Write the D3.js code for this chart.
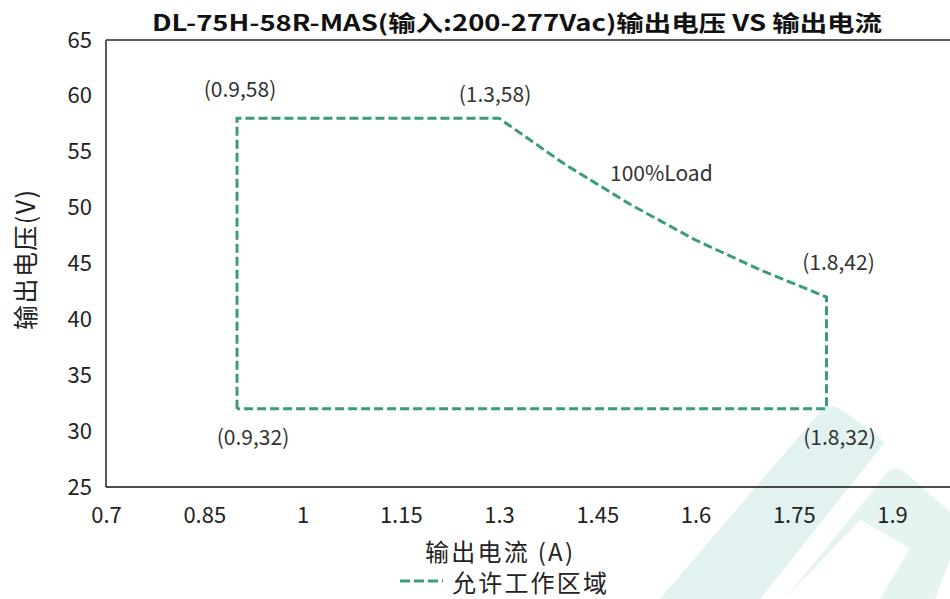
<!DOCTYPE html>
<html><head><meta charset="utf-8">
<script src="https://cdn.jsdelivr.net/npm/d3@7"></script>
<style>body{margin:0;background:#fff}svg{display:block}</style>
</head><body>
<script>
// ---- data ----
const title = "DL-75H-58R-MAS(输入:200-277Vac)输出电压 VS 输出电流";
const xTicks = [0.7, 0.85, 1, 1.15, 1.3, 1.45, 1.6, 1.75, 1.9];
const yTicks = [25, 30, 35, 40, 45, 50, 55, 60, 65];
const current = [0.9, 0.9, 1.3, 1.4, 1.5, 1.6, 1.7, 1.8, 1.8, 0.9];
const voltage = [32, 58, 58, 53.9, 50.3, 47.1, 44.4, 42, 32, 32];
const annotations = [
  {text: "(0.9,58)", x: 0.9, y: 58},
  {text: "(1.3,58)", x: 1.3, y: 58},
  {text: "(1.8,42)", x: 1.8, y: 42},
  {text: "(0.9,32)", x: 0.9, y: 32},
  {text: "(1.8,32)", x: 1.8, y: 32},
  {text: "100%Load", x: 1.47, y: 53}
];
const annOffsets = [[3, -30], [-4, -25], [12, -36], [16, 27], [13, 27], [51, -2]];
const xLabel = "输出电流 (A)";
const yLabel = "输出电压(V)";
const legendLabel = "允许工作区域";

// ---- chart ----
const W = 950, H = 599;
const font = "'Noto Sans CJK SC', 'Noto Sans', sans-serif";
const lineColor = "#3d9b7d";
const svg = d3.select("body").append("svg").attr("width", W).attr("height", H);

// watermark
const wm = svg.append("g").attr("fill", "#e2f2f0");
wm.append("path").attr("d", "M660,599 L820,412 Q830,402 842,410 L885,442 L760,599 Z");
wm.append("path").attr("d", "M785,599 L886,474 Q895,464 905,472 L950,512 L950,560 L935,599 L880,599 L910,548 L860,520 Z").attr("opacity", 0.9);

const x = d3.scaleLinear().domain([0.7, 2.0]).range([106, 957.5]);
const y = d3.scaleLinear().domain([25, 65]).range([487, 40]);

// frame lines
svg.append("line").attr("x1", x(0.7)).attr("x2", W).attr("y1", y(65)).attr("y2", y(65))
  .attr("stroke", "#5a5a5a").attr("stroke-width", 2);
svg.append("line").attr("x1", x(0.7)).attr("x2", x(0.7)).attr("y1", y(65)).attr("y2", y(25))
  .attr("stroke", "#5a5a5a").attr("stroke-width", 2);

// axes
const xAxis = svg.append("g").attr("transform", `translate(0,${y(25)})`)
  .call(d3.axisBottom(x).tickValues(xTicks).tickSize(0).tickPadding(20).tickFormat(d3.format("")));
xAxis.select(".domain").attr("stroke", "#111").attr("stroke-width", 1.6).attr("d", `M${x(0.7)},0H${W}`);
xAxis.selectAll("text").attr("font-family", font).attr("font-size", 22).attr("fill", "#222");

const yAxis = svg.append("g").attr("transform", `translate(${x(0.7)},0)`)
  .call(d3.axisLeft(y).tickValues(yTicks).tickSize(0).tickPadding(14));
yAxis.select(".domain").remove();
yAxis.selectAll("text").attr("font-family", font).attr("font-size", 22).attr("fill", "#222");

// data line
const pts = current.map((c, i) => [c, voltage[i]]);
svg.append("path").datum(pts)
  .attr("d", d3.line().x(d => x(d[0])).y(d => y(d[1])))
  .attr("fill", "none").attr("stroke", lineColor).attr("stroke-width", 3)
  .attr("stroke-dasharray", "9,4").attr("stroke-linejoin", "miter");

// annotations
svg.append("g").selectAll("text").data(annotations).join("text")
  .attr("x", (d, i) => x(d.x) + annOffsets[i][0])
  .attr("y", (d, i) => y(d.y) + annOffsets[i][1])
  .attr("text-anchor", "middle").attr("dominant-baseline", "central")
  .attr("font-family", font).attr("font-size", 21).attr("fill", "#333")
  .text(d => d.text);

// title
svg.append("text").attr("x", 517).attr("y", 21).attr("text-anchor", "middle")
  .attr("dominant-baseline", "central").attr("font-family", font).attr("font-weight", "bold")
  .attr("font-size", 22).attr("fill", "#111")
  .attr("textLength", 730).attr("lengthAdjust", "spacingAndGlyphs").text(title);

// axis titles
svg.append("text").attr("x", 499).attr("y", 550).attr("text-anchor", "middle")
  .attr("dominant-baseline", "central").attr("font-family", font).attr("font-size", 24)
  .attr("fill", "#222").attr("textLength", 148).attr("lengthAdjust", "spacing").text(xLabel);
svg.append("text").attr("transform", "translate(24,260) rotate(-90)").attr("text-anchor", "middle")
  .attr("dominant-baseline", "central").attr("font-family", font).attr("font-size", 25)
  .attr("fill", "#222").attr("textLength", 140).attr("lengthAdjust", "spacing").text(yLabel);

// legend
svg.append("line").attr("x1", 400).attr("x2", 443).attr("y1", 581).attr("y2", 581)
  .attr("stroke", lineColor).attr("stroke-width", 3).attr("stroke-dasharray", "10,4");
svg.append("text").attr("x", 452).attr("y", 581).attr("dominant-baseline", "central")
  .attr("font-family", font).attr("font-size", 24).attr("fill", "#222")
  .attr("textLength", 155).attr("lengthAdjust", "spacing").text(legendLabel);
</script>
</body></html>
